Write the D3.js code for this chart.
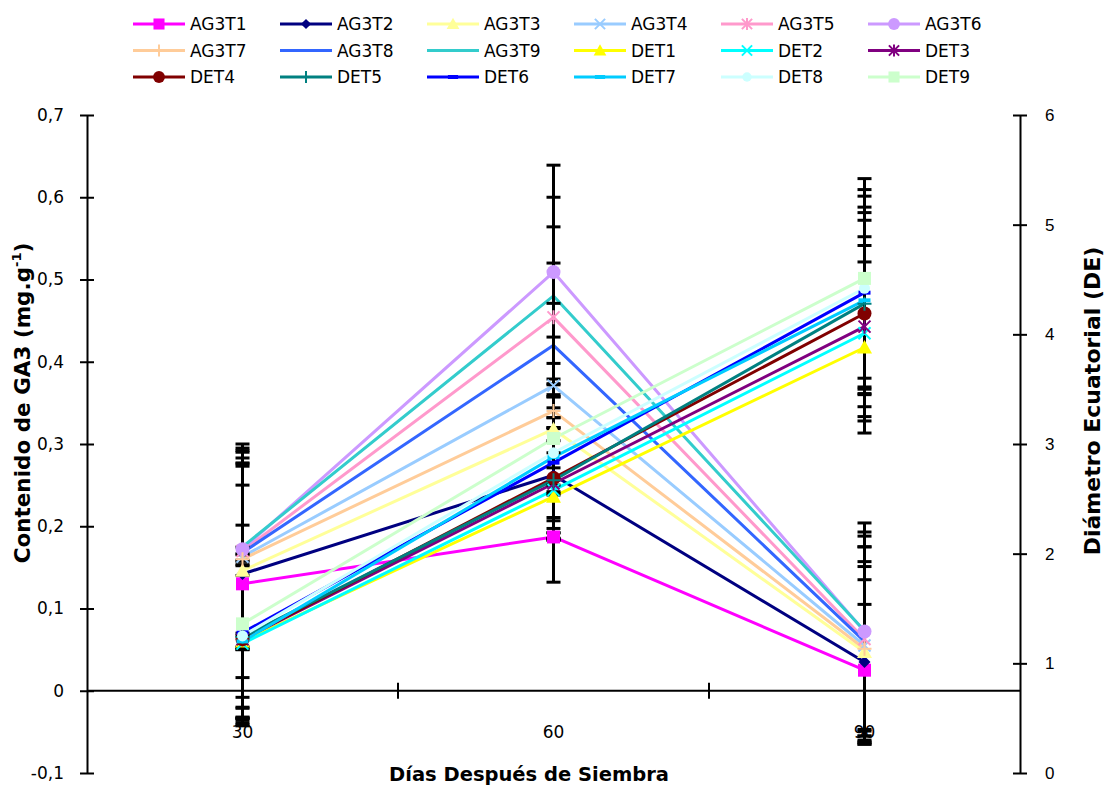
<!DOCTYPE html>
<html>
<head>
<meta charset="utf-8">
<script src="https://cdn.jsdelivr.net/npm/d3@7"></script>
<style>
  html, body { margin: 0; padding: 0; background: #fff; }
  svg { display: block; }
  text { font-family: "DejaVu Sans", Verdana, sans-serif; fill: #000; }
</style>
</head>
<body>
<svg id="chart" width="1104" height="789"></svg>
<script>
// Sampling days (x categories)
const days = [30, 60, 90];
const leftTicks = [-0.1, 0, 0.1, 0.2, 0.3, 0.4, 0.5, 0.6, 0.7];
const rightTicks = [0, 1, 2, 3, 4, 5, 6];

// GA3 content (mg.g-1), left axis
const ag3t1 = [0.130, 0.187, 0.025];
const ag3t2 = [0.142, 0.262, 0.035];
const ag3t3 = [0.146, 0.318, 0.047];
const ag3t4 = [0.163, 0.371, 0.055];
const ag3t5 = [0.170, 0.454, 0.063];
const ag3t6 = [0.172, 0.509, 0.072];
const ag3t7 = [0.160, 0.340, 0.051];
const ag3t8 = [0.168, 0.420, 0.060];
const ag3t9 = [0.175, 0.480, 0.073];

// Standard deviation of GA3 content
const ag3t1Err = [0.165, 0.055, 0.080];
const ag3t2Err = [0.150, 0.070, 0.100];
const ag3t3Err = [0.130, 0.080, 0.110];
const ag3t4Err = [0.110, 0.100, 0.120];
const ag3t5Err = [0.120, 0.110, 0.125];
const ag3t6Err = [0.105, 0.130, 0.132];
const ag3t7Err = [0.090, 0.090, 0.100];
const ag3t8Err = [0.115, 0.100, 0.115];
const ag3t9Err = [0.125, 0.120, 0.120];

// Equatorial diameter (DE), right axis
const det1 = [1.20, 2.52, 3.88];
const det2 = [1.18, 2.58, 4.01];
const det3 = [1.22, 2.64, 4.07];
const det4 = [1.22, 2.69, 4.19];
const det5 = [1.24, 2.67, 4.28];
const det6 = [1.28, 2.83, 4.38];
const det7 = [1.20, 2.88, 4.31];
const det8 = [1.25, 2.92, 4.42];
const det9 = [1.36, 3.05, 4.51];

// Standard deviation of equatorial diameter
const det1Err = [0.70, 0.40, 0.78];
const det2Err = [0.75, 0.45, 0.80];
const det3Err = [0.72, 0.50, 0.82];
const det4Err = [0.78, 0.55, 0.85];
const det5Err = [0.65, 0.48, 0.83];
const det6Err = [0.78, 0.60, 0.88];
const det7Err = [0.60, 0.55, 0.85];
const det8Err = [0.74, 0.62, 0.90];
const det9Err = [0.90, 0.50, 0.91];

const series = [
  { name: "AG3T1", v: ag3t1, e: ag3t1Err, axis: "L", color: "#FF00FF", marker: "square" },
  { name: "AG3T2", v: ag3t2, e: ag3t2Err, axis: "L", color: "#000080", marker: "diamond" },
  { name: "AG3T3", v: ag3t3, e: ag3t3Err, axis: "L", color: "#FFFF99", marker: "triangle" },
  { name: "AG3T4", v: ag3t4, e: ag3t4Err, axis: "L", color: "#99CCFF", marker: "x" },
  { name: "AG3T5", v: ag3t5, e: ag3t5Err, axis: "L", color: "#FF99CC", marker: "star" },
  { name: "AG3T6", v: ag3t6, e: ag3t6Err, axis: "L", color: "#CC99FF", marker: "circle" },
  { name: "AG3T7", v: ag3t7, e: ag3t7Err, axis: "L", color: "#FFCC99", marker: "plus" },
  { name: "AG3T8", v: ag3t8, e: ag3t8Err, axis: "L", color: "#3366FF", marker: "none" },
  { name: "AG3T9", v: ag3t9, e: ag3t9Err, axis: "L", color: "#33CCCC", marker: "none" },
  { name: "DET1", v: det1, e: det1Err, axis: "R", color: "#FFFF00", marker: "triangle" },
  { name: "DET2", v: det2, e: det2Err, axis: "R", color: "#00FFFF", marker: "x" },
  { name: "DET3", v: det3, e: det3Err, axis: "R", color: "#800080", marker: "star" },
  { name: "DET4", v: det4, e: det4Err, axis: "R", color: "#800000", marker: "circle" },
  { name: "DET5", v: det5, e: det5Err, axis: "R", color: "#008080", marker: "plus" },
  { name: "DET6", v: det6, e: det6Err, axis: "R", color: "#0000FF", marker: "dash" },
  { name: "DET7", v: det7, e: det7Err, axis: "R", color: "#00CCFF", marker: "dash" },
  { name: "DET8", v: det8, e: det8Err, axis: "R", color: "#CCFFFF", marker: "smallcircle" },
  { name: "DET9", v: det9, e: det9Err, axis: "R", color: "#CCFFCC", marker: "square" }
];

const svg = d3.select("#chart");
const plot = { left: 87, right: 1020, top: 115, bottom: 773 };

const x = d3.scaleBand().domain(days).range([plot.left, plot.right]).paddingInner(0).paddingOuter(0);
const xc = d => x(d) + x.bandwidth() / 2;
const yL = d3.scaleLinear().domain([-0.1, 0.7]).range([plot.bottom, plot.top]);
const yR = d3.scaleLinear().domain([0, 6]).range([plot.bottom, plot.top]);
const yOf = s => (s.axis === "L" ? yL : yR);
// Decimal comma, plain hyphen for negatives
const fmtComma = v => (v === 0 ? "0" : (v < 0 ? "-" : "") + Math.abs(v).toFixed(1).replace(".", ","));

// Marker shapes
function marker(g, type, color, cx, cy, k) {
  k = k || 1;
  switch (type) {
    case "square": {
      const s = 13 * k;
      g.append("rect").attr("x", cx - s / 2).attr("y", cy - s / 2).attr("width", s).attr("height", s).attr("fill", color);
      break;
    }
    case "diamond": {
      const s = 6 * k;
      g.append("path").attr("d", `M${cx},${cy - s}L${cx + s},${cy}L${cx},${cy + s}L${cx - s},${cy}Z`).attr("fill", color);
      break;
    }
    case "triangle": {
      const s = 7.5 * k;
      g.append("path").attr("d", `M${cx},${cy - s}L${cx + s},${cy + s * 0.8}L${cx - s},${cy + s * 0.8}Z`).attr("fill", color);
      break;
    }
    case "x": {
      const s = 6 * k;
      g.append("path").attr("d", `M${cx - s},${cy - s}L${cx + s},${cy + s}M${cx - s},${cy + s}L${cx + s},${cy - s}`)
        .attr("stroke", color).attr("stroke-width", 2).attr("fill", "none");
      break;
    }
    case "star": {
      const s = 6 * k;
      g.append("path").attr("d", `M${cx - s},${cy - s}L${cx + s},${cy + s}M${cx - s},${cy + s}L${cx + s},${cy - s}M${cx},${cy - s - 1}L${cx},${cy + s + 1}`)
        .attr("stroke", color).attr("stroke-width", 2).attr("fill", "none");
      break;
    }
    case "circle":
      g.append("circle").attr("cx", cx).attr("cy", cy).attr("r", 7 * k).attr("fill", color);
      break;
    case "smallcircle":
      g.append("circle").attr("cx", cx).attr("cy", cy).attr("r", 5.5 * k).attr("fill", color);
      break;
    case "plus": {
      const s = 7 * k;
      g.append("path").attr("d", `M${cx - s},${cy}L${cx + s},${cy}M${cx},${cy - s}L${cx},${cy + s}`)
        .attr("stroke", color).attr("stroke-width", 2).attr("fill", "none");
      break;
    }
    case "dash": {
      const s = 12 * k;
      g.append("rect").attr("x", cx - s / 2).attr("y", cy - 2).attr("width", s).attr("height", 4).attr("fill", color);
      break;
    }
    default:
      break;
  }
}

// Series lines
const lineLayer = svg.append("g");
series.forEach(s => {
  const y = yOf(s);
  const line = d3.line().x((d, i) => xc(days[i])).y(d => y(d));
  lineLayer.append("path").datum(s.v).attr("d", line)
    .attr("fill", "none").attr("stroke", s.color).attr("stroke-width", 3).attr("stroke-linejoin", "round");
});

// Error bars
const errLayer = svg.append("g").attr("stroke", "#000").attr("stroke-width", 3).attr("fill", "none");
series.forEach(s => {
  const y = yOf(s);
  s.v.forEach((v, i) => {
    const cx = xc(days[i]);
    const lo = y(v - s.e[i]), hi = y(v + s.e[i]);
    errLayer.append("line").attr("x1", cx).attr("x2", cx).attr("y1", lo).attr("y2", hi);
    errLayer.append("line").attr("x1", cx - 7).attr("x2", cx + 7).attr("y1", lo).attr("y2", lo);
    errLayer.append("line").attr("x1", cx - 7).attr("x2", cx + 7).attr("y1", hi).attr("y2", hi);
  });
});

// Point markers
const markerLayer = svg.append("g");
series.forEach(s => {
  const y = yOf(s);
  s.v.forEach((v, i) => marker(markerLayer, s.marker, s.color, xc(days[i]), y(v)));
});

// Left axis
const axL = svg.append("g").attr("transform", `translate(${plot.left},0)`)
  .call(d3.axisLeft(yL).tickValues(leftTicks).tickFormat(fmtComma).tickSizeInner(7).tickSizeOuter(0).tickPadding(16));
axL.select(".domain").attr("stroke", "#000").attr("stroke-width", 2);
axL.selectAll(".tick line").attr("x1", 7).attr("x2", -7).attr("stroke", "#000").attr("stroke-width", 2);
axL.selectAll(".tick text").style("font-family", "'DejaVu Sans', Verdana, sans-serif").style("font-size", "17px");

// Right axis
const axR = svg.append("g").attr("transform", `translate(${plot.right},0)`)
  .call(d3.axisRight(yR).tickValues(rightTicks).tickFormat(d3.format("d")).tickSizeInner(7).tickSizeOuter(0).tickPadding(18));
axR.select(".domain").attr("stroke", "#000").attr("stroke-width", 2);
axR.selectAll(".tick line").attr("x1", -7).attr("x2", 7).attr("stroke", "#000").attr("stroke-width", 2);
axR.selectAll(".tick text").style("font-family", "'Liberation Sans', Arial, sans-serif").style("font-size", "17px");

// Category axis on the zero line
const y0 = yL(0);
const axX = svg.append("g");
axX.append("line").attr("x1", plot.left).attr("x2", plot.right).attr("y1", y0).attr("y2", y0)
  .attr("stroke", "#000").attr("stroke-width", 2);
days.slice(1).forEach(d => {
  axX.append("line").attr("x1", x(d)).attr("x2", x(d)).attr("y1", y0 - 8).attr("y2", y0 + 8)
    .attr("stroke", "#000").attr("stroke-width", 2);
});
axX.selectAll("text.cat").data(days).join("text").attr("class", "cat")
  .attr("x", d => xc(d)).attr("y", y0 + 47).attr("text-anchor", "middle")
  .style("font-size", "17px").text(d => d);

// Axis titles
svg.append("text").attr("x", 529).attr("y", 781).attr("text-anchor", "middle")
  .style("font-size", "19.5px").style("font-weight", "bold").text("Días Después de Siembra");

const tl = svg.append("text").attr("transform", "translate(30,403) rotate(-90)").attr("text-anchor", "middle")
  .style("font-size", "21.5px").style("font-weight", "bold");
tl.append("tspan").text("Contenido de GA3 (mg.g");
tl.append("tspan").attr("dy", -9).style("font-size", "13px").text("-1");
tl.append("tspan").attr("dy", 9).text(")");

svg.append("text").attr("transform", "translate(1100,401) rotate(-90)").attr("text-anchor", "middle")
  .style("font-size", "22px").style("font-weight", "bold").text("Diámetro Ecuatorial (DE)");

// Legend: 3 rows x 6 columns
const legend = svg.append("g");
series.forEach((s, i) => {
  const col = i % 6, row = Math.floor(i / 6);
  const x0 = 133 + col * 147, ly = 24 + row * 26.5;
  const g = legend.append("g");
  g.append("line").attr("x1", x0).attr("x2", x0 + 52).attr("y1", ly).attr("y2", ly)
    .attr("stroke", s.color).attr("stroke-width", 3);
  marker(g, s.marker, s.color, x0 + 26, ly, 0.85);
  g.append("text").attr("x", x0 + 57).attr("y", ly + 6).style("font-size", "17px").text(s.name);
});
</script>
</body>
</html>
